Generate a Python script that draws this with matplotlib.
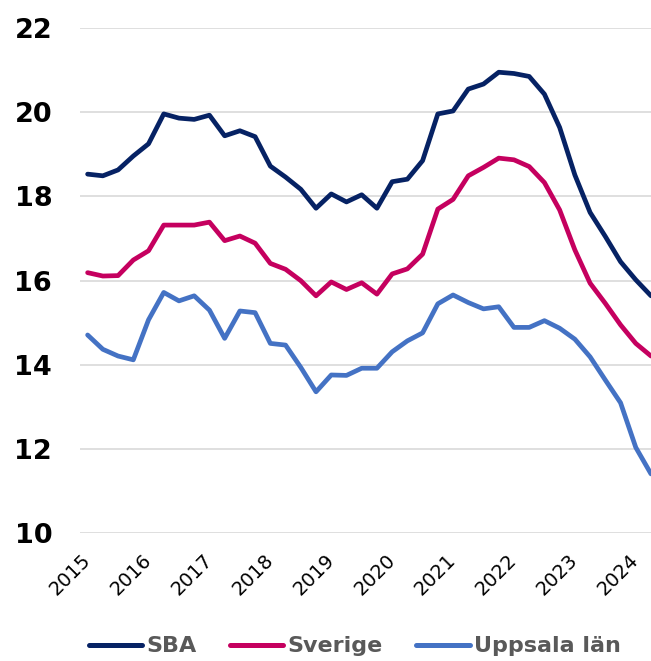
import numpy as np
import matplotlib
matplotlib.use("Agg")
import matplotlib.pyplot as plt

# Quarterly values, 2015 Q1 .. 2024 Q2
years = ['2015', '2016', '2017', '2018', '2019', '2020', '2021', '2022', '2023', '2024']

sba = [18.53, 18.49, 18.63, 18.96, 19.25, 19.96, 19.86, 19.83, 19.93, 19.44,
       19.56, 19.42, 18.72, 18.46, 18.17, 17.72, 18.06, 17.87, 18.04, 17.72,
       18.35, 18.41, 18.85, 19.96, 20.03, 20.55, 20.67, 20.95, 20.92, 20.85,
       20.43, 19.64, 18.51, 17.62, 17.05, 16.45, 16.02, 15.64]

sverige = [16.19, 16.11, 16.12, 16.49, 16.71, 17.32, 17.32, 17.32, 17.39, 16.95,
           17.06, 16.89, 16.41, 16.27, 16.00, 15.64, 15.97, 15.79, 15.95, 15.68,
           16.16, 16.28, 16.63, 17.70, 17.93, 18.49, 18.69, 18.91, 18.87, 18.71,
           18.33, 17.68, 16.73, 15.94, 15.46, 14.95, 14.51, 14.21]

uppsala = [14.71, 14.37, 14.21, 14.12, 15.07, 15.72, 15.52, 15.64, 15.30, 14.63,
           15.28, 15.24, 14.51, 14.47, 13.94, 13.36, 13.76, 13.75, 13.92, 13.92,
           14.31, 14.57, 14.76, 15.45, 15.66, 15.48, 15.33, 15.38, 14.89, 14.89,
           15.05, 14.87, 14.61, 14.19, 13.64, 13.10, 12.04, 11.41]

series_names = ['SBA', 'Sverige', 'Uppsala län']
colors = ['#062264', '#C5005F', '#4472C4']

x = np.arange(len(sba))

fig = plt.figure(figsize=(6.51, 6.61), dpi=100)
ax = fig.add_axes([0.1229, 0.1932, 0.8771, 0.7644])

for vals, name, col in zip([sba, sverige, uppsala], series_names, colors):
    ax.plot(x, vals, color=col, linewidth=3.4, label=name,
            solid_capstyle='round', solid_joinstyle='round')

ax.set_xlim(-0.5, 37.0)
ax.set_ylim(10, 22)
ax.set_yticks(np.arange(10, 23, 2))
ax.set_yticklabels([str(v) for v in range(10, 23, 2)], fontsize=19.5,
                   fontweight='bold', color='black')
ax.set_xticks(x[::4])
ax.set_xticklabels(years, rotation=45, ha='right', va='center',
                   rotation_mode='anchor', fontsize=14, color='black')

ax.grid(axis='y', color='#D9D9D9', linewidth=1.2)
ax.set_axisbelow(True)
for s in ax.spines.values():
    s.set_visible(False)
ax.tick_params(axis='both', length=0)
ax.tick_params(axis='y', pad=20)
ax.tick_params(axis='x', pad=17)

leg = fig.legend(loc='center', bbox_to_anchor=(0.545, 0.022), ncol=3,
                 frameon=False, handlelength=2.4, handletextpad=0.2,
                 columnspacing=1.5, prop={'size': 16, 'weight': 'bold'})
for t in leg.get_texts():
    t.set_color('#595959')
for h in leg.get_lines():
    h.set_linewidth(3.6)
    h.set_solid_capstyle('round')

fig.savefig('out.png', dpi=100)
